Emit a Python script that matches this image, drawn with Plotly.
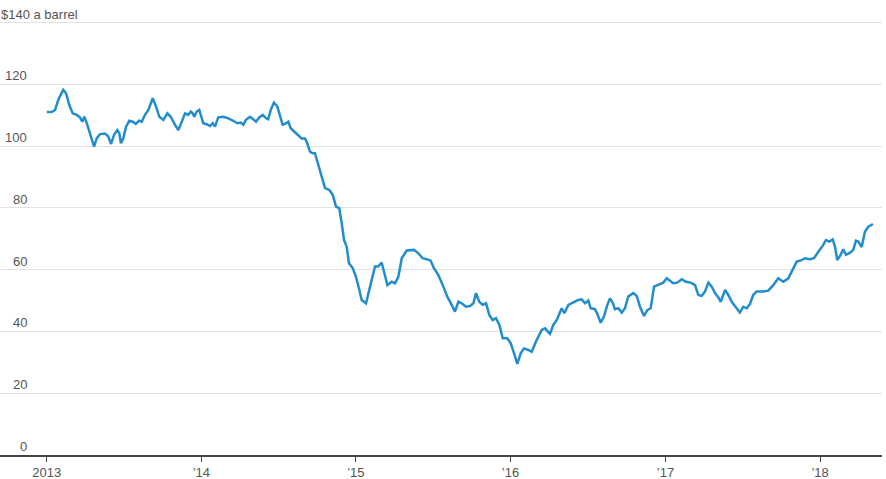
import plotly.graph_objects as go
import pandas as pd

# time in fractional years
t_years = [
    2013.000, 2013.032, 2013.054, 2013.075, 2013.107, 2013.125, 2013.146, 2013.168, 2013.194, 2013.215,
    2013.230, 2013.243, 2013.259, 2013.274, 2013.291, 2013.306, 2013.323, 2013.345, 2013.377, 2013.398,
    2013.416, 2013.435, 2013.456, 2013.469, 2013.480, 2013.495, 2013.513, 2013.534, 2013.556, 2013.575,
    2013.597, 2013.614, 2013.635, 2013.657, 2013.685, 2013.707, 2013.728, 2013.754, 2013.780, 2013.802,
    2013.829, 2013.851, 2013.873, 2013.894, 2013.915, 2013.931, 2013.944, 2013.954, 2013.970, 2013.986,
    2014.012, 2014.034, 2014.056, 2014.073, 2014.088, 2014.109, 2014.142, 2014.174, 2014.206, 2014.232,
    2014.254, 2014.271, 2014.288, 2014.314, 2014.335, 2014.353, 2014.374, 2014.396, 2014.418, 2014.432,
    2014.448, 2014.469, 2014.491, 2014.508, 2014.525, 2014.547, 2014.562, 2014.577, 2014.599, 2014.626,
    2014.648, 2014.670, 2014.684, 2014.702, 2014.719, 2014.734, 2014.749, 2014.771, 2014.799, 2014.827,
    2014.849, 2014.870, 2014.891, 2014.907, 2014.922, 2014.939, 2014.954, 2014.978, 2014.999, 2015.021,
    2015.036, 2015.064, 2015.090, 2015.122, 2015.143, 2015.165, 2015.180, 2015.202, 2015.230, 2015.251,
    2015.273, 2015.295, 2015.327, 2015.353, 2015.374, 2015.402, 2015.430, 2015.456, 2015.482, 2015.503,
    2015.531, 2015.560, 2015.589, 2015.618, 2015.639, 2015.661, 2015.683, 2015.710, 2015.736, 2015.758,
    2015.775, 2015.796, 2015.818, 2015.840, 2015.861, 2015.883, 2015.904, 2015.926, 2015.948, 2015.977,
    2015.999, 2016.021, 2016.042, 2016.064, 2016.085, 2016.113, 2016.135, 2016.167, 2016.200, 2016.221,
    2016.253, 2016.275, 2016.297, 2016.329, 2016.346, 2016.372, 2016.404, 2016.436, 2016.458, 2016.480,
    2016.501, 2016.516, 2016.544, 2016.559, 2016.581, 2016.602, 2016.624, 2016.641, 2016.659, 2016.673,
    2016.695, 2016.717, 2016.738, 2016.759, 2016.792, 2016.814, 2016.835, 2016.861, 2016.882, 2016.904,
    2016.926, 2016.953, 2016.986, 2017.008, 2017.029, 2017.050, 2017.076, 2017.105, 2017.132, 2017.163,
    2017.191, 2017.212, 2017.234, 2017.255, 2017.277, 2017.299, 2017.320, 2017.341, 2017.357, 2017.385,
    2017.406, 2017.428, 2017.460, 2017.481, 2017.503, 2017.525, 2017.546, 2017.567, 2017.589, 2017.632,
    2017.664, 2017.697, 2017.729, 2017.761, 2017.794, 2017.816, 2017.848, 2017.880, 2017.902, 2017.934,
    2017.960, 2017.988, 2018.016, 2018.037, 2018.059, 2018.081, 2018.096, 2018.110, 2018.132, 2018.149,
    2018.167, 2018.193, 2018.214, 2018.231, 2018.246, 2018.268, 2018.289, 2018.311, 2018.333, 2018.341,
]

# Brent crude, dollars a barrel
price = [
    111.0, 111.0, 111.7, 115.0, 118.2, 117.1, 113.3, 110.6, 110.1, 109.3,
    107.9, 109.5, 107.4, 104.7, 102.5, 99.8, 102.5, 103.9, 104.1, 103.1,
    100.7, 103.6, 105.2, 104.2, 100.9, 102.5, 106.3, 108.2, 107.9, 107.2,
    108.2, 107.9, 110.1, 111.7, 115.5, 112.8, 109.5, 108.5, 110.6, 109.5,
    106.9, 105.2, 107.9, 110.6, 110.1, 111.2, 110.6, 109.5, 111.2, 111.7,
    107.4, 107.1, 106.5, 107.4, 106.3, 109.3, 109.5, 109.0, 108.2, 107.4,
    107.6, 106.9, 108.5, 109.5, 108.7, 107.9, 109.3, 110.1, 109.0, 108.7,
    111.7, 114.1, 112.8, 110.1, 106.9, 107.4, 107.9, 105.8, 104.7, 103.6,
    102.5, 102.5, 100.9, 98.2, 97.7, 97.7, 95.0, 91.2, 86.4, 85.8,
    84.2, 80.4, 79.9, 75.0, 69.6, 67.4, 62.1, 60.5, 57.7, 53.4,
    50.2, 49.1, 54.5, 61.0, 61.0, 62.3, 59.4, 55.0, 56.1, 55.6,
    57.7, 63.7, 66.2, 66.2, 66.4, 65.3, 63.7, 63.4, 62.9, 60.5,
    58.3, 55.0, 51.3, 48.6, 46.4, 49.6, 49.1, 48.0, 48.2, 49.1,
    52.4, 49.6, 48.6, 49.1, 45.3, 43.7, 44.3, 42.1, 37.8, 37.8,
    36.2, 32.9, 29.5, 32.9, 34.5, 34.0, 33.4, 37.2, 40.5, 41.0,
    39.2, 42.1, 43.7, 47.5, 45.9, 48.6, 49.3, 50.2, 50.4, 49.1,
    50.0, 47.5, 47.2, 45.7, 42.8, 44.8, 48.6, 50.7, 49.3, 47.2,
    47.5, 46.1, 47.5, 51.3, 52.4, 51.5, 48.0, 45.0, 46.9, 47.5,
    54.5, 55.0, 55.8, 57.2, 56.4, 55.6, 55.8, 56.9, 56.1, 55.8,
    55.0, 51.8, 51.5, 52.9, 55.8, 54.5, 52.4, 51.1, 49.6, 53.4,
    51.8, 49.6, 47.5, 46.1, 48.0, 47.5, 48.9, 51.8, 52.9, 52.9,
    53.2, 55.0, 57.2, 56.1, 57.2, 59.4, 62.6, 63.1, 63.7, 63.4,
    63.7, 65.8, 67.7, 69.6, 69.1, 69.8, 67.4, 63.1, 64.8, 66.6,
    64.8, 65.5, 66.4, 69.4, 69.1, 67.3, 72.3, 73.9, 74.5, 74.8,
]

y_ticks = [0, 20, 40, 60, 80, 100, 120, 140]
y_labels = ["0", "20", "40", "60", "80", "100", "120", "$140 a barrel"]
x_tick_years = [2013, 2014, 2015, 2016, 2017, 2018]
x_tick_labels = ["2013", "\u201914", "\u201915", "\u201916", "\u201917", "\u201918"]
x_range_years = [2012.698, 2018.3995]
y_range = [0, 140.5]


def to_date(t):
    return pd.Timestamp("2013-01-01") + pd.Timedelta(days=(t - 2013) * 365.25)


dates = [to_date(t) for t in t_years]

FONT = "Liberation Sans, Arial, sans-serif"
GRAY = "#555555"

fig = go.Figure()
fig.add_trace(go.Scatter(
    x=dates, y=price, mode="lines",
    line=dict(color="#228dcc", width=2.5),
    hoverinfo="skip",
))

for v, lab in zip(y_ticks, y_labels):
    if lab.startswith("$"):
        fig.add_annotation(x=0, xref="paper", y=v, yref="y", text=lab,
                           xanchor="left", yanchor="bottom", xshift=-1, yshift=-1,
                           showarrow=False, font=dict(family=FONT, size=13, color=GRAY))
    else:
        fig.add_annotation(x=0, xref="paper", y=v, yref="y", text=lab,
                           xanchor="right", yanchor="bottom", xshift=29, yshift=-1,
                           showarrow=False, font=dict(family=FONT, size=13, color=GRAY))

fig.update_layout(
    width=886, height=479,
    margin=dict(l=0, r=4, t=21, b=24),
    paper_bgcolor="white", plot_bgcolor="white",
    showlegend=False,
    font=dict(family=FONT, size=13, color=GRAY),
)
fig.update_xaxes(
    type="date",
    range=[to_date(x_range_years[0]), to_date(x_range_years[1])],
    tickvals=[pd.Timestamp(f"{y}-01-01") for y in x_tick_years],
    ticktext=x_tick_labels,
    showgrid=False, zeroline=False,
    showline=True, linecolor="#444444", linewidth=1.5,
    ticks="outside", ticklen=5, tickwidth=1, tickcolor="#444444",
    tickfont=dict(family=FONT, size=13, color=GRAY),
    automargin=False,
)
fig.update_yaxes(
    range=y_range,
    tickvals=y_ticks[1:],
    showticklabels=False,
    showgrid=True, gridcolor="#e2e2e2", gridwidth=1,
    zeroline=False, showline=False, ticks="",
    automargin=False,
)

fig.write_html("out.html", config={"displayModeBar": False},
               post_script="document.body.style.margin='0';")
